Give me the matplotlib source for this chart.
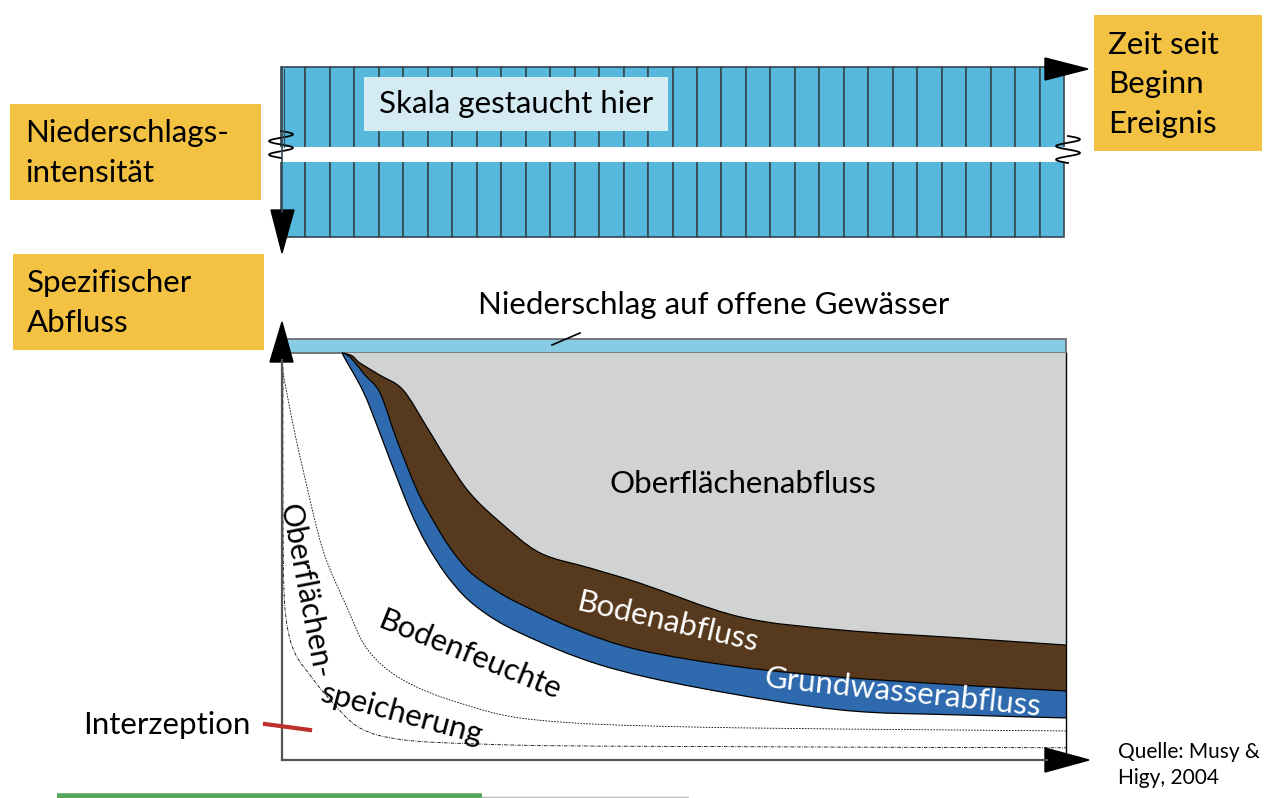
import matplotlib.pyplot as plt
import matplotlib.patches as patches
from matplotlib.path import Path
import numpy as np

plt.rcParams['font.family'] = ['Lato', 'DejaVu Sans']

W, H = 1270, 798

# Niederschlag: 32 Zeitintervalle, konstante Intensitaet (Skala gestaucht)
rain_intensity = [1.0, 1.0, 1.0, 1.0, 1.0, 1.0, 1.0, 1.0,
                  1.0, 1.0, 1.0, 1.0, 1.0, 1.0, 1.0, 1.0,
                  1.0, 1.0, 1.0, 1.0, 1.0, 1.0, 1.0, 1.0,
                  1.0, 1.0, 1.0, 1.0, 1.0, 1.0, 1.0, 1.0]

# Abfluss in % der Niederschlagsintensitaet, Zeit in Intervallen
q_open_water = 96.7

# Grenze Oberflaechenabfluss / Bodenabfluss
t_surface = [2.45, 2.86, 3.18, 4.0, 4.94, 5.92, 6.73, 7.67, 8.9, 10.53, 12.57, 14.61, 18.69, 22.78, 27.67, 32.0]
q_surface = [96.7, 96.0, 94.3, 91.4, 87.9, 79.0, 71.3, 63.4, 56.5, 49.2, 45.6, 42.0, 34.0, 30.9, 29.0, 27.3]

# Grenze Bodenabfluss / Grundwasserabfluss
t_subsurf = [2.53, 2.86, 3.39, 4.0, 4.69, 5.51, 6.16, 6.86, 7.67, 8.69, 9.71, 12.0, 14.61, 18.69, 22.78, 27.67, 32.0]
q_subsurf = [96.7, 95.2, 91.4, 87.2, 76.0, 64.1, 57.0, 50.4, 44.7, 40.4, 37.1, 31.0, 26.1, 22.1, 19.7, 17.8, 16.4]

# Untergrenze Grundwasserabfluss
t_ground = [2.45, 2.65, 3.18, 3.59, 4.41, 5.22, 5.92, 6.86, 7.96, 9.71, 12.98, 17.06, 22.78, 27.67, 32.0]
q_ground = [96.7, 94.5, 89.1, 83.8, 71.3, 59.4, 51.1, 42.8, 36.3, 30.2, 22.6, 17.1, 11.9, 10.7, 10.0]

# Grenze Bodenfeuchte / Oberflaechenspeicherung
t_soil = [0.0, 0.41, 0.86, 1.67, 2.65, 3.51, 4.94, 7.27, 10.41, 17.06, 32.0]
q_soil = [93.3, 80.8, 68.9, 49.9, 36.3, 26.1, 19.0, 13.5, 9.5, 7.8, 6.9]

# Grenze Oberflaechenspeicherung / Interzeption
t_store = [0.04, 0.04, 0.08, 0.24, 0.57, 1.14, 1.96, 3.18, 4.94, 8.08, 12.98, 32.0]
q_store = [93.3, 61.8, 40.4, 30.9, 24.9, 20.2, 14.3, 7.6, 4.8, 3.8, 3.3, 2.9]

ORANGE = '#F4C243'
RAIN = '#57B8DD'
OPEN_WATER = '#88CCE4'
GREY = '#D1D2D2'
BROWN = '#573A1D'
BLUE = '#2F6AAE'


def px_axes(x0, y0, x1, y1):
    return fig.add_axes([x0 / W, 1 - y1 / H, (x1 - x0) / W, (y1 - y0) / H])


# glatte Kurve durch die Punkte (Catmull-Rom als Bezier)
def smooth(t, q):
    p = np.column_stack([t, q]).astype(float)
    ext = np.vstack([p[0], p, p[-1]])
    verts = [p[0]]
    for i in range(len(p) - 1):
        p0, p1, p2, p3 = ext[i], ext[i + 1], ext[i + 2], ext[i + 3]
        verts += [p1 + (p2 - p0) / 6, p2 - (p3 - p1) / 6, p2]
    return verts


def curve_path(t, q):
    v = smooth(t, q)
    return Path(v, [Path.MOVETO] + [Path.CURVE4] * (len(v) - 1))


def band_path(t1, q1, t2, q2):
    v1 = smooth(t1, q1)
    v2 = smooth(t2[::-1], q2[::-1])
    verts = v1 + v2 + [v1[0]]
    codes = ([Path.MOVETO] + [Path.CURVE4] * (len(v1) - 1) +
             [Path.LINETO] + [Path.CURVE4] * (len(v2) - 1) + [Path.CLOSEPOLY])
    return Path(verts, codes)


fig = plt.figure(figsize=(12.7, 7.98), dpi=100)
fig.patch.set_facecolor('white')

# Niederschlagsbalken
ax_p = px_axes(281, 67, 1064, 237)
ax_p.bar(np.arange(len(rain_intensity)) + 0.5, rain_intensity, width=1.0,
         color=RAIN, edgecolor='#36474F', linewidth=1.2, clip_on=False)
ax_p.set_xlim(0, len(rain_intensity))
ax_p.set_ylim(1.0, 0)
ax_p.axis('off')

# Abflussganglinie
ax_h = px_axes(282, 339, 1066, 760)
ax_h.set_xlim(0, 32)
ax_h.set_ylim(0, 100)
ax_h.axis('off')
ax_h.add_patch(patches.Rectangle((0, q_open_water), 32, 100 - q_open_water,
                                 facecolor=OPEN_WATER, edgecolor='#6A7074', lw=1.3, clip_on=False))
ax_h.add_patch(patches.PathPatch(band_path(t_surface, q_surface, [t_surface[0], 32], [q_open_water, q_open_water]),
                                 facecolor=GREY, lw=0))
ax_h.add_patch(patches.PathPatch(band_path(t_surface, q_surface, t_subsurf, q_subsurf), facecolor=BROWN, lw=0))
ax_h.add_patch(patches.PathPatch(band_path(t_subsurf, q_subsurf, t_ground, q_ground), facecolor=BLUE, lw=0))
for t, q in [(t_surface, q_surface), (t_subsurf, q_subsurf), (t_ground, q_ground)]:
    ax_h.add_patch(patches.PathPatch(curve_path(t, q), facecolor='none', edgecolor='black', lw=0.9))
ax_h.plot([32, 32], [q_open_water, 1.0], color='black', lw=1.0, clip_on=False)
ax_h.add_patch(patches.PathPatch(curve_path(t_soil, q_soil), facecolor='none', edgecolor='black',
                                 lw=0.6, ls=(0, (2, 1.5))))
ax_h.add_patch(patches.PathPatch(curve_path(t_store, q_store), facecolor='none', edgecolor='black',
                                 lw=0.6, ls=(0, (4, 1.5, 1, 1.5))))

# Overlay fuer Beschriftung, Pfeile usw.
ax = fig.add_axes([0, 0, 1, 1])
ax.set_xlim(0, W)
ax.set_ylim(H, 0)
ax.axis('off')
ax.patch.set_alpha(0)
ax.set_zorder(10)

# Skalenbruch
ax.add_patch(patches.Rectangle((276, 147), 790, 15, facecolor='white', lw=0))
s = np.linspace(0, 1, 60)
ax.plot(281 + 12 * np.sin(s * 4 * np.pi), 131 + 27 * s, color='black', lw=1.3)
ax.plot(1068 + 12 * np.sin(s * 4 * np.pi), 136 + 27 * s, color='black', lw=1.3)
ax.plot([284, 284], [69, 147], color='#36474F', lw=0.8)

ax.add_patch(patches.Rectangle((364, 77), 304, 54, facecolor='#D4EBF3', lw=0))
ax.text(516, 104, 'Skala gestaucht hier', fontsize=22.5, ha='center', va='center')

# Pfeile
ax.plot([282, 282], [67, 212], color='#36474F', lw=1.2)
ax.add_patch(patches.Polygon([(271, 210), (294, 210), (282, 253)], color='black'))
ax.add_patch(patches.Polygon([(1045, 58), (1045, 80), (1088, 69)], color='black'))
ax.plot([282, 282], [360, 760], color='#555555', lw=1.6)
ax.plot([282, 1047], [760, 760], color='#555555', lw=1.6)
ax.add_patch(patches.Polygon([(270, 362), (293, 362), (282, 322)], color='black'))
ax.add_patch(patches.Polygon([(1045, 748), (1045, 772), (1089, 760)], color='black'))

# Orange Beschriftungskaesten
ax.add_patch(patches.Rectangle((10, 104), 251, 96, facecolor=ORANGE, lw=0))
ax.text(25, 153, 'Niederschlags-\nintensität', fontsize=22.5, ha='left', va='center', linespacing=1.5)
ax.add_patch(patches.Rectangle((13, 254), 251, 96, facecolor=ORANGE, lw=0))
ax.text(27, 303, 'Spezifischer\nAbfluss', fontsize=22.5, ha='left', va='center', linespacing=1.5)
ax.add_patch(patches.Rectangle((1094, 15), 168, 136, facecolor=ORANGE, lw=0))
ax.text(1108, 84, 'Zeit seit\nBeginn\nEreignis', fontsize=22.5, ha='left', va='center', linespacing=1.5)

# Komponenten-Beschriftung
ax.text(714, 305, 'Niederschlag auf offene Gewässer', fontsize=22.5, ha='center', va='center')
ax.plot([552, 580], [345, 333], color='black', lw=1.2)
ax.text(743, 484, 'Oberflächenabfluss', fontsize=22.5, ha='center', va='center')
ax.text(668, 622, 'Bodenabfluss', fontsize=22.5, color='white', ha='center', va='center', rotation=-13)
ax.text(903, 693, 'Grundwasserabfluss', fontsize=22.5, color='white', ha='center', va='center', rotation=-6)
ax.text(470, 655, 'Bodenfeuchte', fontsize=22.5, ha='center', va='center', rotation=-22)
ax.text(305, 591, 'Oberflächen-', fontsize=22, ha='center', va='center', rotation=-79)
ax.text(402, 714, 'speicherung', fontsize=22.5, ha='center', va='center', rotation=-15)
ax.text(167, 725, 'Interzeption', fontsize=22.5, ha='center', va='center')
ax.plot([265, 310], [724, 730], color='#C0302A', lw=3)

ax.text(1118, 765, 'Quelle: Musy &\nHigy, 2004', fontsize=15, ha='left', va='center', linespacing=1.4)

# Linie am unteren Rand
ax.plot([57, 482], [795.5, 795.5], color='#55A85A', lw=4, solid_capstyle='butt')
ax.plot([482, 688], [797, 797], color='#BBBBBB', lw=1)

fig.savefig('out.png', dpi=100)
